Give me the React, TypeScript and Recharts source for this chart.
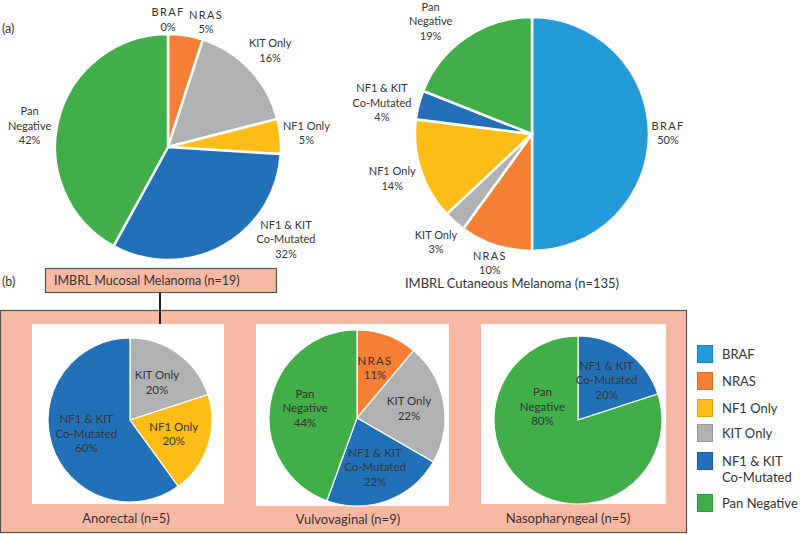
import React from 'react';
import { PieChart, Pie, Cell } from 'recharts';

// ---------- data ----------
// legend order
const categories = ['BRAF', 'NRAS', 'NF1 Only', 'KIT Only', 'NF1 & KIT Co-Mutated', 'Pan Negative'];
const legendLabels = [['BRAF'], ['NRAS'], ['NF1 Only'], ['KIT Only'], ['NF1 & KIT', 'Co-Mutated'], ['Pan Negative']];

// slice order of the two upper pies (clockwise from 12 o'clock)
const overviewCategories = ['BRAF', 'NRAS', 'KIT Only', 'NF1 Only', 'NF1 & KIT Co-Mutated', 'Pan Negative'];
const mucosalValues = [0, 5, 16, 5, 32, 42];
const cutaneousValues = [50, 10, 3, 14, 4, 19];

const anorectalCategories = ['KIT Only', 'NF1 Only', 'NF1 & KIT Co-Mutated'];
const anorectalValues = [20, 20, 60];

const vulvovaginalCategories = ['NRAS', 'KIT Only', 'NF1 & KIT Co-Mutated', 'Pan Negative'];
const vulvovaginalValues = [11, 22, 22, 44];

const nasopharyngealCategories = ['NF1 & KIT Co-Mutated', 'Pan Negative'];
const nasopharyngealValues = [20, 80];

const titles = {
  cutaneous: 'IMBRL Cutaneous Melanoma (n=135)',
  mucosal: 'IMBRL Mucosal Melanoma (n=19)',
  anorectal: 'Anorectal (n=5)',
  vulvovaginal: 'Vulvovaginal (n=9)',
  nasopharyngeal: 'Nasopharyngeal (n=5)',
};

// ---------- styles ----------
const COLORS: Record<string, string> = {
  'BRAF': '#229bd8',
  'NRAS': '#f47f35',
  'NF1 Only': '#fdbd16',
  'KIT Only': '#b0b1b3',
  'NF1 & KIT Co-Mutated': '#2170b8',
  'Pan Negative': '#42ae4a',
};
const BORDERS: Record<string, string> = {
  'BRAF': '#1a86bd',
  'NRAS': '#d96a25',
  'NF1 Only': '#e0a20a',
  'KIT Only': '#969799',
  'NF1 & KIT Co-Mutated': '#1a5e9e',
  'Pan Negative': '#35963d',
};
const SALMON = '#f8b9a4';
const TEXT = '#333333';
const FONT = 'Lato, "Open Sans", sans-serif';
const RAD = Math.PI / 180;

const toData = (cats: string[], vals: number[]) => cats.map((name, i) => ({ name, value: vals[i] }));

const splitLabel = (name: string) =>
  name === 'Pan Negative' ? ['Pan', 'Negative'] : name === 'NF1 & KIT Co-Mutated' ? ['NF1 & KIT', 'Co-Mutated'] : [name];

const isCaps = (s: string) => /^[A-Z]+$/.test(s);

const renderLines = (lines: string[], x: number, lh: number) =>
  lines.map((l, i) => (
    <tspan key={i} x={x} dy={i === 0 ? 0 : lh} letterSpacing={isCaps(l) ? 1.3 : 0}>{l}</tspan>
  ));

// outside labels: the text box is pushed out along the (optionally nudged) mid angle
// until it just clears the pie
function makeOuterLabel(pad: number, nudge: Record<string, number> = {}) {
  return (p: any) => {
    const name = p.payload?.name ?? p.name;
    const lines = [...splitLabel(name), `${p.value}%`];
    const ang = p.midAngle + (nudge[name] ?? 0);
    const dx = Math.cos(-ang * RAD);
    const dy = Math.sin(-ang * RAD);
    const lh = 14.5;
    const a = Math.max(...lines.map((l) => l.length * (isCaps(l) ? 8 : 6.1))) / 2;
    const b = (lines.length * lh) / 2 - 2;
    const target = p.outerRadius + pad;
    let lo = 0;
    let hi = 400;
    for (let k = 0; k < 40; k++) {
      const D = (lo + hi) / 2;
      const ex = Math.max(0, Math.abs(D * dx) - a);
      const ey = Math.max(0, Math.abs(D * dy) - b);
      if (Math.hypot(ex, ey) < target) lo = D;
      else hi = D;
    }
    const x = p.cx + hi * dx;
    const y = p.cy + hi * dy;
    const h = lines.length * lh;
    const y0 = y - h / 2 + lh * 0.72;
    return (
      <text key={`ol-${p.index}`} x={x} y={y0} textAnchor="middle" fontSize={11} fill={TEXT} fontFamily={FONT}>
        {renderLines(lines, x, lh)}
      </text>
    );
  };
}

function makeInnerLabel(factor: number, bigAngle?: number) {
  return (p: any) => {
    const name = p.payload?.name ?? p.name;
    const lines = [...splitLabel(name), `${p.value}%`];
    let ang = p.midAngle;
    let f = factor;
    if (bigAngle !== undefined && p.percent > 0.7) {
      ang = bigAngle;
      f = 0.45;
    }
    const dx = Math.cos(-ang * RAD);
    const dy = Math.sin(-ang * RAD);
    const x = p.cx + p.outerRadius * f * dx;
    const y = p.cy + p.outerRadius * f * dy;
    const lh = 14.5;
    const h = lines.length * lh;
    const y0 = y - h / 2 + lh * 0.75;
    return (
      <text key={`il-${p.index}`} x={x} y={y0} textAnchor="middle" fontSize={11.5} fill={TEXT} fontFamily={FONT}>
        {renderLines(lines, x, lh)}
      </text>
    );
  };
}

export default function App() {
  const mucosalData = toData(overviewCategories, mucosalValues);
  const cutaneousData = toData(overviewCategories, cutaneousValues);
  const anorectalData = toData(anorectalCategories, anorectalValues);
  const vulvoData = toData(vulvovaginalCategories, vulvovaginalValues);
  const nasoData = toData(nasopharyngealCategories, nasopharyngealValues);

  const legendY = [354, 381, 408, 433, 461, 503];

  return (
    <div style={{ position: 'absolute', left: 0, top: 0, width: 800, height: 535, background: '#fff', fontFamily: FONT }}>
      {/* background layer */}
      <svg width={800} height={535} style={{ position: 'absolute', left: 0, top: 0 }}>
        <rect x={0.5} y={310.5} width={686} height={222} fill={SALMON} stroke="#555" strokeWidth={1.2} />
        <rect x={32} y={324} width={192} height={180} fill="#fff" />
        <rect x={256} y={324} width={193} height={182} fill="#fff" />
        <rect x={481} y={324} width={185} height={180} fill="#fff" />
        <rect x={45.5} y={268.5} width={231} height={24} fill={SALMON} stroke="#555" strokeWidth={1.2} />
        <line x1={160} y1={293} x2={160} y2={324} stroke="#222" strokeWidth={2} />
      </svg>

      {/* pies */}
      <div style={{ position: 'absolute', left: 0, top: 0 }}>
        <PieChart width={800} height={535}>
          <Pie data={mucosalData} dataKey="value" nameKey="name" cx={163} cy={142} outerRadius={113}
            startAngle={90} endAngle={-270} stroke="#fff" strokeWidth={2.5}
            label={makeOuterLabel(1, { 'NRAS': -8, 'NF1 & KIT Co-Mutated': 23, 'Pan Negative': 6 })}
            labelLine={false} isAnimationActive={false}>
            {mucosalData.map((d) => <Cell key={d.name} fill={COLORS[d.name]} />)}
          </Pie>
          <Pie data={cutaneousData} dataKey="value" nameKey="name" cx={527} cy={129} outerRadius={117}
            startAngle={90} endAngle={-270} stroke="#fff" strokeWidth={2.5}
            label={makeOuterLabel(3, { 'Pan Negative': 8, 'NF1 & KIT Co-Mutated': 3 })}
            labelLine={false} isAnimationActive={false}>
            {cutaneousData.map((d) => <Cell key={d.name} fill={COLORS[d.name]} />)}
          </Pie>
          <Pie data={anorectalData} dataKey="value" nameKey="name" cx={125} cy={415} outerRadius={82}
            startAngle={90} endAngle={-270} stroke="#fff" strokeWidth={1.2}
            label={makeInnerLabel(0.56)} labelLine={false} isAnimationActive={false}>
            {anorectalData.map((d) => <Cell key={d.name} fill={COLORS[d.name]} />)}
          </Pie>
          <Pie data={vulvoData} dataKey="value" nameKey="name" cx={352} cy={413} outerRadius={88}
            startAngle={90} endAngle={-270} stroke="#fff" strokeWidth={1.2}
            label={makeInnerLabel(0.6)} labelLine={false} isAnimationActive={false}>
            {vulvoData.map((d) => <Cell key={d.name} fill={COLORS[d.name]} />)}
          </Pie>
          <Pie data={nasoData} dataKey="value" nameKey="name" cx={573} cy={415} outerRadius={84}
            startAngle={90} endAngle={-270} stroke="#fff" strokeWidth={1.2}
            label={makeInnerLabel(0.58, 160)} labelLine={false} isAnimationActive={false}>
            {nasoData.map((d) => <Cell key={d.name} fill={COLORS[d.name]} />)}
          </Pie>
        </PieChart>
      </div>

      {/* text overlay */}
      <svg width={800} height={535} style={{ position: 'absolute', left: 0, top: 0, pointerEvents: 'none' }}>
        <g fontFamily={FONT} fill={TEXT}>
          <text x={2} y={33} fontSize={12.5}>(a)</text>
          <text x={2} y={286} fontSize={12.5}>(b)</text>
          <text x={512} y={288} fontSize={13} textAnchor="middle">{titles.cutaneous}</text>
          <text x={54} y={285} fontSize={12.5}>{titles.mucosal}</text>
          <text x={126} y={523} fontSize={13} textAnchor="middle">{titles.anorectal}</text>
          <text x={348} y={524} fontSize={13} textAnchor="middle">{titles.vulvovaginal}</text>
          <text x={568} y={523} fontSize={13} textAnchor="middle">{titles.nasopharyngeal}</text>
          {categories.map((c, i) => (
            <g key={c}>
              <rect x={697.5} y={legendY[i] - 8.5} width={15} height={17} fill={COLORS[c]} stroke={BORDERS[c]} strokeWidth={1} />
              <text x={722} y={legendY[i] + 5} fontSize={13}>
                {legendLabels[i].map((l, j) => (
                  <tspan key={j} x={722} dy={j === 0 ? 0 : 16}>{l}</tspan>
                ))}
              </text>
            </g>
          ))}
        </g>
      </svg>
    </div>
  );
}
